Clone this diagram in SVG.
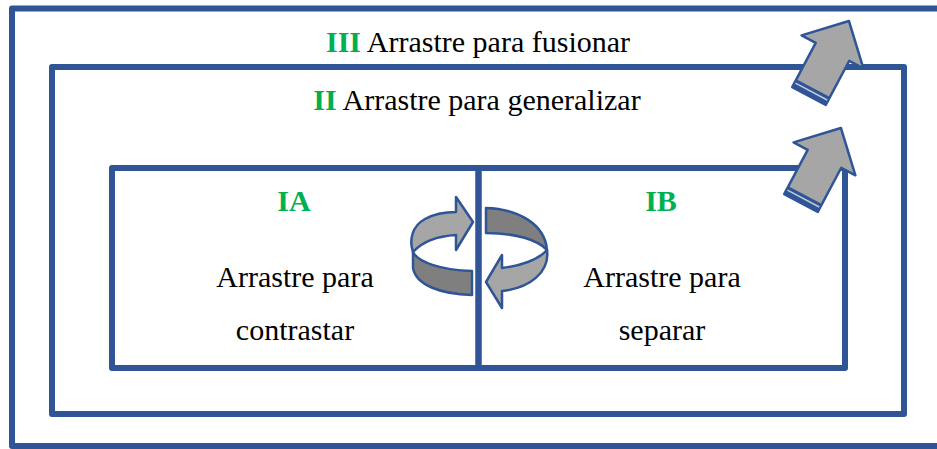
<svg xmlns="http://www.w3.org/2000/svg" width="937" height="449" viewBox="0 0 937 449">
<style>
.box{fill:none;stroke:#2f5597;stroke-width:6;stroke-linejoin:round}
.t{font-family:"Liberation Serif","Times New Roman",serif;font-size:30px;fill:#000}
.g{fill:#00b050;font-weight:bold}
.light{fill:#a6a6a6;stroke:#2f5597;stroke-width:2.5;stroke-linejoin:round}
.dark{fill:#7f7f7f;stroke:#2f5597;stroke-width:2.5;stroke-linejoin:round}
</style>
<defs>
<g id="blockArrow">
<path d="M-19,0 L-19,-50 L-35,-50 L0,-85 L35,-50 L19,-50 L19,0 Z" class="light" stroke-width="3"/>
<rect x="-19.5" y="-9" width="39" height="9" fill="#2f5597"/>
<line x1="-18" y1="-5" x2="18" y2="-5" stroke="#c3cbd9" stroke-width="1.5"/>
</g>
</defs>
<g id="node-III">
<rect class="box" x="12" y="8.5" width="935" height="437.5"/>
<text class="t" x="478" y="52" text-anchor="middle"><tspan class="g">III</tspan> Arrastre para fusionar</text>
</g>
<g id="node-II">
<rect class="box" x="52" y="67" width="852" height="347"/>
<text class="t" x="477" y="110" text-anchor="middle"><tspan class="g">II</tspan> Arrastre para generalizar</text>
</g>
<g id="node-IA">
<rect class="box" x="112" y="168" width="366.5" height="200"/>
<text class="t g" x="294" y="211" text-anchor="middle">IA</text>
<text class="t" x="295" y="287" text-anchor="middle">Arrastre para</text>
<text class="t" x="295" y="340" text-anchor="middle">contrastar</text>
</g>
<g id="node-IB">
<rect class="box" x="478.5" y="168" width="366.5" height="200"/>
<text class="t g" x="661" y="211" text-anchor="middle">IB</text>
<text class="t" x="662" y="287" text-anchor="middle">Arrastre para</text>
<text class="t" x="662" y="340" text-anchor="middle">separar</text>
</g>
<g id="connectors">
<g id="cycle-left">
<path class="dark" d="M413,252 C418,262 440,270 472,271 L472,295 C440,294 416,285 413,268 Z"/>
<path class="light" d="M413,252 C409,240 412,226 425,219 C434,214 445,212 456,212 L456,197 L473,222 L456,250 L456,235 C438,236 422,242 413,252 Z"/>
</g>
<g id="cycle-right">
<path class="dark" d="M486,208 C518,209 545,224 547,250 C538,240 516,233 486,233 Z"/>
<path class="light" d="M547,250 C550,272 530,288 502,291 L502,308 L486,282 L502,255 L502,268 C520,266 538,260 547,250 Z"/>
</g>
<use href="#blockArrow" transform="translate(809,96) rotate(28)"/>
<use href="#blockArrow" transform="translate(801,203) rotate(28)"/>
</g>
</svg>
